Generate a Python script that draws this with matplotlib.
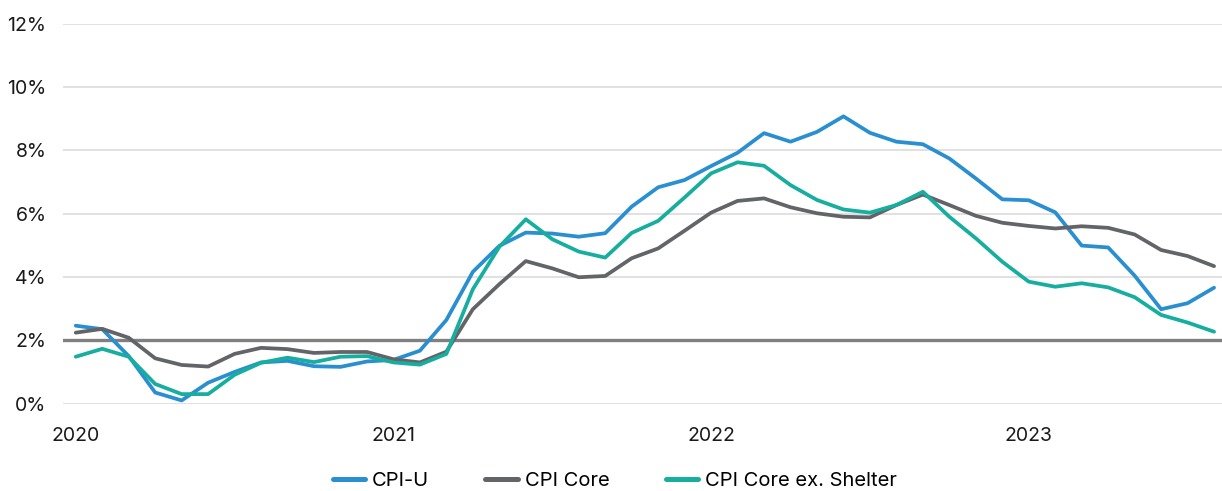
import matplotlib.pyplot as plt
import numpy as np

plt.rcParams['font.family'] = ['Inter', 'DejaVu Sans']

# monthly year-over-year inflation, Jan 2020 - Aug 2023 (%)
cpi_u = [2.46, 2.35, 1.5, 0.35, 0.1, 0.66, 1.0, 1.3, 1.35, 1.18, 1.16, 1.33,
         1.38, 1.67, 2.64, 4.16, 4.98, 5.4, 5.37, 5.27, 5.38, 6.22, 6.83, 7.06,
         7.5, 7.92, 8.54, 8.27, 8.58, 9.07, 8.55, 8.27, 8.19, 7.74, 7.11, 6.45,
         6.42, 6.04, 4.99, 4.93, 4.04, 2.98, 3.17, 3.66]
cpi_core = [2.24, 2.36, 2.08, 1.43, 1.22, 1.17, 1.57, 1.76, 1.72, 1.6, 1.63, 1.63,
            1.4, 1.3, 1.64, 2.98, 3.77, 4.5, 4.27, 3.99, 4.03, 4.59, 4.9, 5.46,
            6.03, 6.4, 6.48, 6.2, 6.01, 5.9, 5.88, 6.27, 6.6, 6.27, 5.93, 5.71,
            5.61, 5.53, 5.6, 5.55, 5.34, 4.85, 4.66, 4.34]
cpi_core_ex_shelter = [1.48, 1.73, 1.48, 0.62, 0.3, 0.3, 0.91, 1.29, 1.45, 1.31, 1.48, 1.5,
                       1.3, 1.23, 1.57, 3.61, 4.95, 5.82, 5.19, 4.8, 4.61, 5.39, 5.77, 6.51,
                       7.27, 7.62, 7.51, 6.9, 6.43, 6.13, 6.03, 6.27, 6.69, 5.9, 5.22, 4.48,
                       3.85, 3.69, 3.8, 3.67, 3.36, 2.8, 2.56, 2.27]
years = ['2020', '2021', '2022', '2023']
target = 2.0

months = np.arange(len(cpi_u))

fig, ax = plt.subplots(figsize=(12.22, 4.91), dpi=100)
fig.subplots_adjust(left=0.0516, right=1.0, top=0.952, bottom=0.178)

ax.set_ylim(0, 12)
ax.set_xlim(-0.48, 43.3)
ax.set_yticks(np.arange(0, 13, 2))
ax.set_yticklabels([f'{v}%' for v in range(0, 13, 2)])
ax.set_xticks([0, 12, 24, 36])
ax.set_xticklabels(years)
ax.grid(axis='y', color='#d9d9d9', lw=1.1)
ax.set_axisbelow(True)
for s in ax.spines.values():
    s.set_visible(False)
ax.tick_params(length=0, labelsize=14, colors='#1a1a1a')
ax.tick_params(axis='y', pad=12)
ax.tick_params(axis='x', pad=17)

ax.axhline(target, color='#808080', lw=2.4, zorder=2)

ax.plot(months, cpi_u, color='#2a8fd0', lw=2.7, label='CPI-U', solid_joinstyle='round', solid_capstyle='round', zorder=3)
ax.plot(months, cpi_core, color='#636468', lw=2.7, label='CPI Core', solid_joinstyle='round', solid_capstyle='round', zorder=3)
ax.plot(months, cpi_core_ex_shelter, color='#17ae9f', lw=2.7, label='CPI Core ex. Shelter', solid_joinstyle='round', solid_capstyle='round', zorder=3)

leg = ax.legend(loc='center', bbox_to_anchor=(0.476, -0.2025), ncol=3, frameon=False,
                fontsize=14.5, handlelength=1.6, handletextpad=0.35, columnspacing=2.8,
                borderpad=0, borderaxespad=0)
for h in leg.get_lines():
    h.set_linewidth(3.6)
    h.set_solid_capstyle('round')

fig.savefig('out.png', dpi=100)
